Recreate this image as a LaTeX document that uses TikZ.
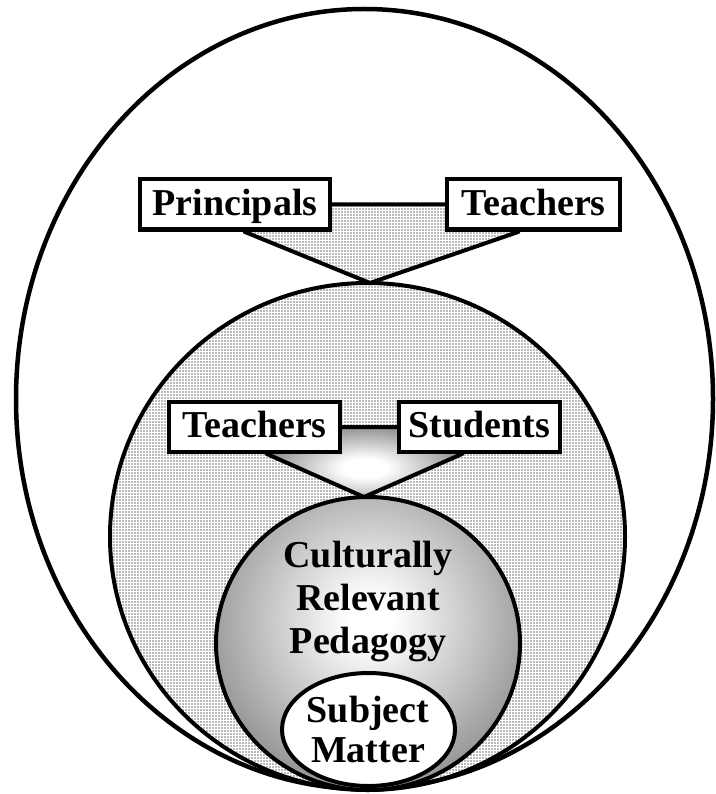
\documentclass[tikz,border=0pt]{standalone}
\usepackage{fontspec}
\setmainfont{Liberation Serif}
\usetikzlibrary{patterns.meta}
\pgfdeclareradialshading{crpshade}{\pgfpoint{0bp}{0bp}}{color(0bp)=(white); color(3bp)=(white); color(31bp)=(black!60); color(50bp)=(black!66)}
\pgfdeclareradialshading{tsshade}{\pgfpoint{0bp}{0bp}}{color(0bp)=(white); color(4bp)=(white); color(21bp)=(black!55); color(50bp)=(black!62)}
\tikzset{
  dotfill/.style={pattern={Dots[distance=3pt,radius=0.85pt]}, pattern color=black!55},
  namebox/.style={draw, line width=4pt, fill=white, minimum height=50pt, inner sep=0pt, text height=26pt, text depth=5pt, font=\fontsize{38}{42}\selectfont\bfseries},
  bigtext/.style={align=center, font=\fontsize{38}{43}\selectfont\bfseries}
}
\begin{document}
\begin{tikzpicture}[x=1pt,y=-1pt]
\useasboundingbox (0,0) rectangle (715,794);
\draw[line width=4.5pt] (364.5,399) ellipse [x radius=348.5, y radius=390];
\draw[line width=4pt, dotfill] (367.5,536.5) ellipse [x radius=257.5, y radius=253.5];
\begin{scope}
\clip (368,643.5) ellipse [x radius=152, y radius=146.5];
\shade[shading=crpshade] (180,430) rectangle (560,810);
\end{scope}
\draw[line width=4pt] (368,643.5) ellipse [x radius=152, y radius=146.5];
\draw[line width=4pt, fill=white] (368.5,729.5) ellipse [x radius=86.5, y radius=56.5];

\node[namebox, minimum width=190pt] (p) at (235,204.5) {Principals};
\node[namebox, minimum width=173pt] (t1) at (533.5,204.5) {Teachers};
\coordinate (f1l) at (245,232);
\coordinate (f1r) at (518,232);
\coordinate (f1tip) at (370,283);
\draw[line width=4pt, dotfill, line join=miter] (p.center) -- (t1.center) -- (f1r) -- (f1tip) -- (f1l) -- cycle;
\node[namebox, minimum width=190pt] at (p) {Principals};
\node[namebox, minimum width=173pt] at (t1) {Teachers};

\node[namebox, minimum width=171pt] (t2) at (254.5,427) {Teachers};
\node[namebox, minimum width=161pt] (s) at (479.5,427) {Students};
\coordinate (f2l) at (267,454);
\coordinate (f2r) at (462,454);
\coordinate (f2tip) at (364,497);
\begin{scope}
\clip (t2.center) -- (s.center) -- (f2r) -- (f2tip) -- (f2l) -- cycle;
\shade[shading=tsshade] (225,408) rectangle (505,528);
\end{scope}
\draw[line width=4pt] (t2.center) -- (s.center) -- (f2r) -- (f2tip) -- (f2l) -- cycle;
\node[namebox, minimum width=171pt] at (t2) {Teachers};
\node[namebox, minimum width=161pt] at (s) {Students};

\node[bigtext] (crp) at (368,602) {Culturally\\Relevant\\Pedagogy};
\node[bigtext, font=\fontsize{38}{40}\selectfont\bfseries] (sm) at (368,729) {Subject\\Matter};
\end{tikzpicture}
\end{document}
